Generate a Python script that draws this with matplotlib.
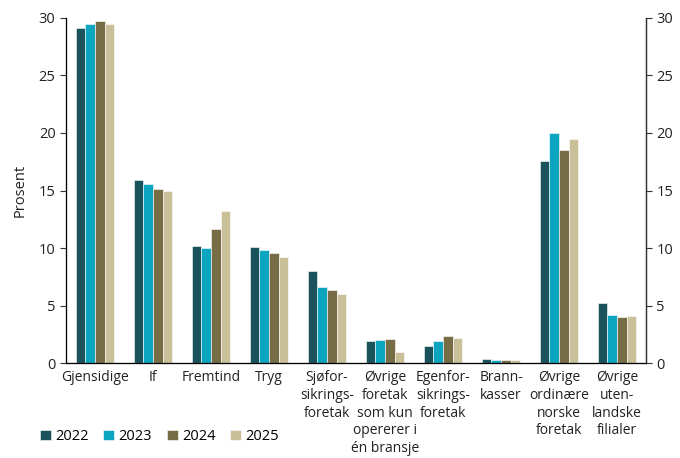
import numpy as np
import matplotlib
matplotlib.use('Agg')
import matplotlib.pyplot as plt

plt.rcParams['font.family'] = ['Open Sans', 'DejaVu Sans']

# 데이터
categories = ['Gjensidige', 'If', 'Fremtind', 'Tryg', 'Sjøfor-\nsikrings-\nforetak',
              'Øvrige\nforetak\nsom kun\nopererer i\nén bransje', 'Egenfor-\nsikrings-\nforetak',
              'Brann-\nkasser', 'Øvrige\nordinære\nnorske\nforetak', 'Øvrige\nuten-\nlandske\nfilialer']
years = ['2022', '2023', '2024', '2025']
v2022 = [29.1, 15.9, 10.2, 10.1, 8.0, 1.9, 1.5, 0.35, 17.6, 5.2]
v2023 = [29.5, 15.6, 10.0, 9.8, 6.6, 2.0, 1.95, 0.28, 20.0, 4.2]
v2024 = [29.7, 15.1, 11.7, 9.6, 6.4, 2.1, 2.35, 0.27, 18.5, 4.05]
v2025 = [29.5, 14.95, 13.2, 9.2, 6.0, 1.0, 2.2, 0.25, 19.5, 4.1]
colors = ['#1a535c', '#0ca5c0', '#766c45', '#c9c09a']

fig = plt.figure(figsize=(6.8, 4.58), dpi=100)
ax = fig.add_axes([0.097, 0.207, 0.853, 0.754])

x = np.arange(len(categories))
w = 0.165
for i, (vals, yr) in enumerate(zip([v2022, v2023, v2024, v2025], years)):
    ax.bar(x + (i - 1.5) * w, vals, width=w, color=colors[i], label=yr,
           edgecolor='white', linewidth=0.4)

ax.set_xlim(-0.5, len(categories) - 0.5)
ax.set_ylim(0, 30)
ax.set_yticks(range(0, 31, 5))
ax.set_xticks(x)
ax.set_xticklabels(categories, fontsize=10, linespacing=1.25, color='#222222')
ax.tick_params(axis='x', length=0, pad=5)
ax.tick_params(axis='y', labelsize=10.5, length=4, color='#333333', labelcolor='#222222')
ax.spines['top'].set_visible(False)
for s in ['left', 'right', 'bottom']:
    ax.spines[s].set_color('#333333')
    ax.spines[s].set_linewidth(0.9)
ax.set_ylabel('Prosent', fontsize=10.5, color='#222222', labelpad=8)

ax2 = ax.twinx()
ax2.set_ylim(0, 30)
ax2.set_yticks(range(0, 31, 5))
ax2.tick_params(axis='y', labelsize=10.5, length=4, color='#333333', labelcolor='#222222')
ax2.spines['top'].set_visible(False)
ax2.spines['right'].set_color('#333333')
ax2.spines['right'].set_linewidth(0.9)

fig.legend(loc='center left', bbox_to_anchor=(0.05, 0.047), ncol=4, frameon=False,
           fontsize=10.5, handlelength=0.75, handleheight=0.75, handletextpad=0.3,
           columnspacing=1.0, borderaxespad=0)

fig.savefig('out.png', dpi=100)
